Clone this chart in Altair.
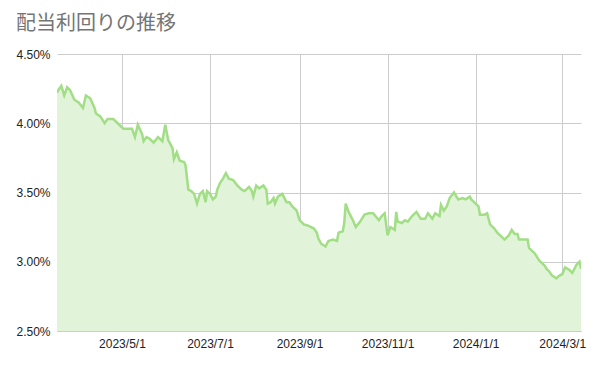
import altair as alt
import pandas as pd

dates = [
    "2023-03-17", "2023-03-18", "2023-03-20", "2023-03-22", "2023-03-24", "2023-03-26",
    "2023-03-29", "2023-04-01", "2023-04-04", "2023-04-06", "2023-04-09", "2023-04-12",
    "2023-04-13", "2023-04-16", "2023-04-19", "2023-04-21", "2023-04-25", "2023-04-28",
    "2023-05-02", "2023-05-05", "2023-05-08", "2023-05-10", "2023-05-12", "2023-05-15",
    "2023-05-16", "2023-05-18", "2023-05-20", "2023-05-23", "2023-05-26", "2023-05-29",
    "2023-05-31", "2023-06-02", "2023-06-05", "2023-06-06", "2023-06-08", "2023-06-10",
    "2023-06-13", "2023-06-14", "2023-06-15", "2023-06-16", "2023-06-18", "2023-06-20",
    "2023-06-22", "2023-06-24", "2023-06-26", "2023-06-28", "2023-06-29", "2023-07-01",
    "2023-07-03", "2023-07-05", "2023-07-06", "2023-07-08", "2023-07-10", "2023-07-12",
    "2023-07-14", "2023-07-17", "2023-07-20", "2023-07-23", "2023-07-25", "2023-07-28",
    "2023-07-30", "2023-07-31", "2023-08-02", "2023-08-04", "2023-08-07", "2023-08-09",
    "2023-08-10", "2023-08-12", "2023-08-14", "2023-08-15", "2023-08-17", "2023-08-20",
    "2023-08-23", "2023-08-25", "2023-08-27", "2023-08-30", "2023-09-01", "2023-09-04",
    "2023-09-07", "2023-09-11", "2023-09-13", "2023-09-14", "2023-09-16", "2023-09-19",
    "2023-09-21", "2023-09-24", "2023-09-27", "2023-09-28", "2023-10-01", "2023-10-02",
    "2023-10-03", "2023-10-05", "2023-10-08", "2023-10-10", "2023-10-13", "2023-10-16",
    "2023-10-19", "2023-10-22", "2023-10-26", "2023-10-28", "2023-10-30", "2023-10-31",
    "2023-11-01", "2023-11-03", "2023-11-06", "2023-11-07", "2023-11-08", "2023-11-11",
    "2023-11-13", "2023-11-15", "2023-11-18", "2023-11-21", "2023-11-24", "2023-11-27",
    "2023-11-29", "2023-12-02", "2023-12-04", "2023-12-07", "2023-12-08", "2023-12-10",
    "2023-12-12", "2023-12-14", "2023-12-17", "2023-12-20", "2023-12-23", "2023-12-25",
    "2023-12-28", "2023-12-29", "2024-01-01", "2024-01-03", "2024-01-04", "2024-01-07",
    "2024-01-09", "2024-01-10", "2024-01-11", "2024-01-14", "2024-01-16", "2024-01-18",
    "2024-01-21", "2024-01-24", "2024-01-26", "2024-01-28", "2024-01-30", "2024-01-31",
    "2024-02-03", "2024-02-06", "2024-02-07", "2024-02-11", "2024-02-14", "2024-02-18",
    "2024-02-19", "2024-02-21", "2024-02-23", "2024-02-26", "2024-02-28", "2024-03-01",
    "2024-03-03", "2024-03-06", "2024-03-08", "2024-03-11", "2024-03-13", "2024-03-14",
]

yields = [
    4.22, 4.24, 4.27, 4.20, 4.26, 4.24,
    4.17, 4.15, 4.11, 4.20, 4.18, 4.11,
    4.07, 4.05, 4.00, 4.03, 4.03, 4.00,
    3.96, 3.96, 3.96, 3.90, 3.99, 3.92,
    3.87, 3.90, 3.89, 3.86, 3.90, 3.87,
    3.99, 3.88, 3.82, 3.74, 3.79, 3.73,
    3.72, 3.70, 3.61, 3.52, 3.51, 3.49,
    3.42, 3.49, 3.51, 3.43, 3.51, 3.49,
    3.45, 3.47, 3.52, 3.57, 3.60, 3.64,
    3.60, 3.59, 3.55, 3.52, 3.51, 3.54,
    3.51, 3.47, 3.55, 3.53, 3.55, 3.52,
    3.42, 3.43, 3.46, 3.42, 3.47, 3.49,
    3.43, 3.43, 3.40, 3.37, 3.30, 3.27,
    3.26, 3.24, 3.21, 3.17, 3.13, 3.11,
    3.15, 3.16, 3.15, 3.21, 3.22, 3.28,
    3.42, 3.36, 3.30, 3.25, 3.29, 3.34,
    3.35, 3.35, 3.30, 3.33, 3.35, 3.27,
    3.19, 3.25, 3.23, 3.36, 3.29, 3.28,
    3.30, 3.29, 3.33, 3.36, 3.31, 3.31,
    3.35, 3.31, 3.35, 3.33, 3.41, 3.37,
    3.40, 3.46, 3.50, 3.45, 3.46, 3.45,
    3.47, 3.45, 3.42, 3.40, 3.34, 3.34,
    3.35, 3.31, 3.27, 3.24, 3.21, 3.19,
    3.16, 3.19, 3.23, 3.20, 3.20, 3.16,
    3.16, 3.16, 3.10, 3.06, 3.01, 2.97,
    2.95, 2.93, 2.90, 2.88, 2.90, 2.91,
    2.96, 2.94, 2.92, 2.98, 3.00, 2.95,
]

y_ticks = [2.5, 3.0, 3.5, 4.0, 4.5]
x_ticks = [(2023, 5, 1), (2023, 7, 1), (2023, 9, 1), (2023, 11, 1), (2024, 1, 1), (2024, 3, 1)]

df = pd.DataFrame({"date": pd.to_datetime(dates), "yield": yields})

LINE = "#a2de86"
FILL = "#e1f4da"

x_enc = alt.X(
    "date:T",
    title=None,
    scale=alt.Scale(nice=False),
    axis=alt.Axis(
        values=[alt.DateTime(year=y, month=m, date=d) for (y, m, d) in x_ticks],
        format="%Y/%-m/%-d",
        grid=True,
        gridColor="#cccccc",
        ticks=False,
        domain=True,
        domainColor="#cccccc",
        labelPadding=7,
        labelFontSize=12,
        labelColor="#222222",
        labelFont="Liberation Sans",
    ),
)
y_enc = alt.Y(
    "yield:Q",
    title=None,
    scale=alt.Scale(domain=[2.5, 4.5], nice=False, zero=False),
    axis=alt.Axis(
        values=y_ticks,
        labelExpr="format(datum.value, '.2f') + '%'",
        grid=True,
        gridColor="#cccccc",
        ticks=False,
        domain=False,
        labelPadding=7,
        labelFontSize=12,
        labelColor="#222222",
        labelFont="Liberation Sans",
    ),
)

area = alt.Chart(df).mark_area(color=FILL, opacity=1, clip=True).encode(x=x_enc, y=y_enc)
line = alt.Chart(df).mark_line(color=LINE, strokeWidth=2.5, clip=True).encode(x="date:T", y="yield:Q")

chart = (
    alt.layer(area, line)
    .properties(
        width=524,
        height=277,
        title=alt.TitleParams(
            "配当利回りの推移",
            anchor="start",
            frame="group",
            dx=-41,
            offset=14,
            fontSize=20,
            fontWeight="normal",
            color="#757575",
            font="Noto Sans CJK JP",
        ),
        autosize=alt.AutoSizeParams(type="none"),
        padding={"left": 57, "top": 54, "right": 17, "bottom": 36},
    )
    .configure_view(stroke=None)
)

chart.save("out.html", embed_options={"renderer": "svg", "actions": False})
